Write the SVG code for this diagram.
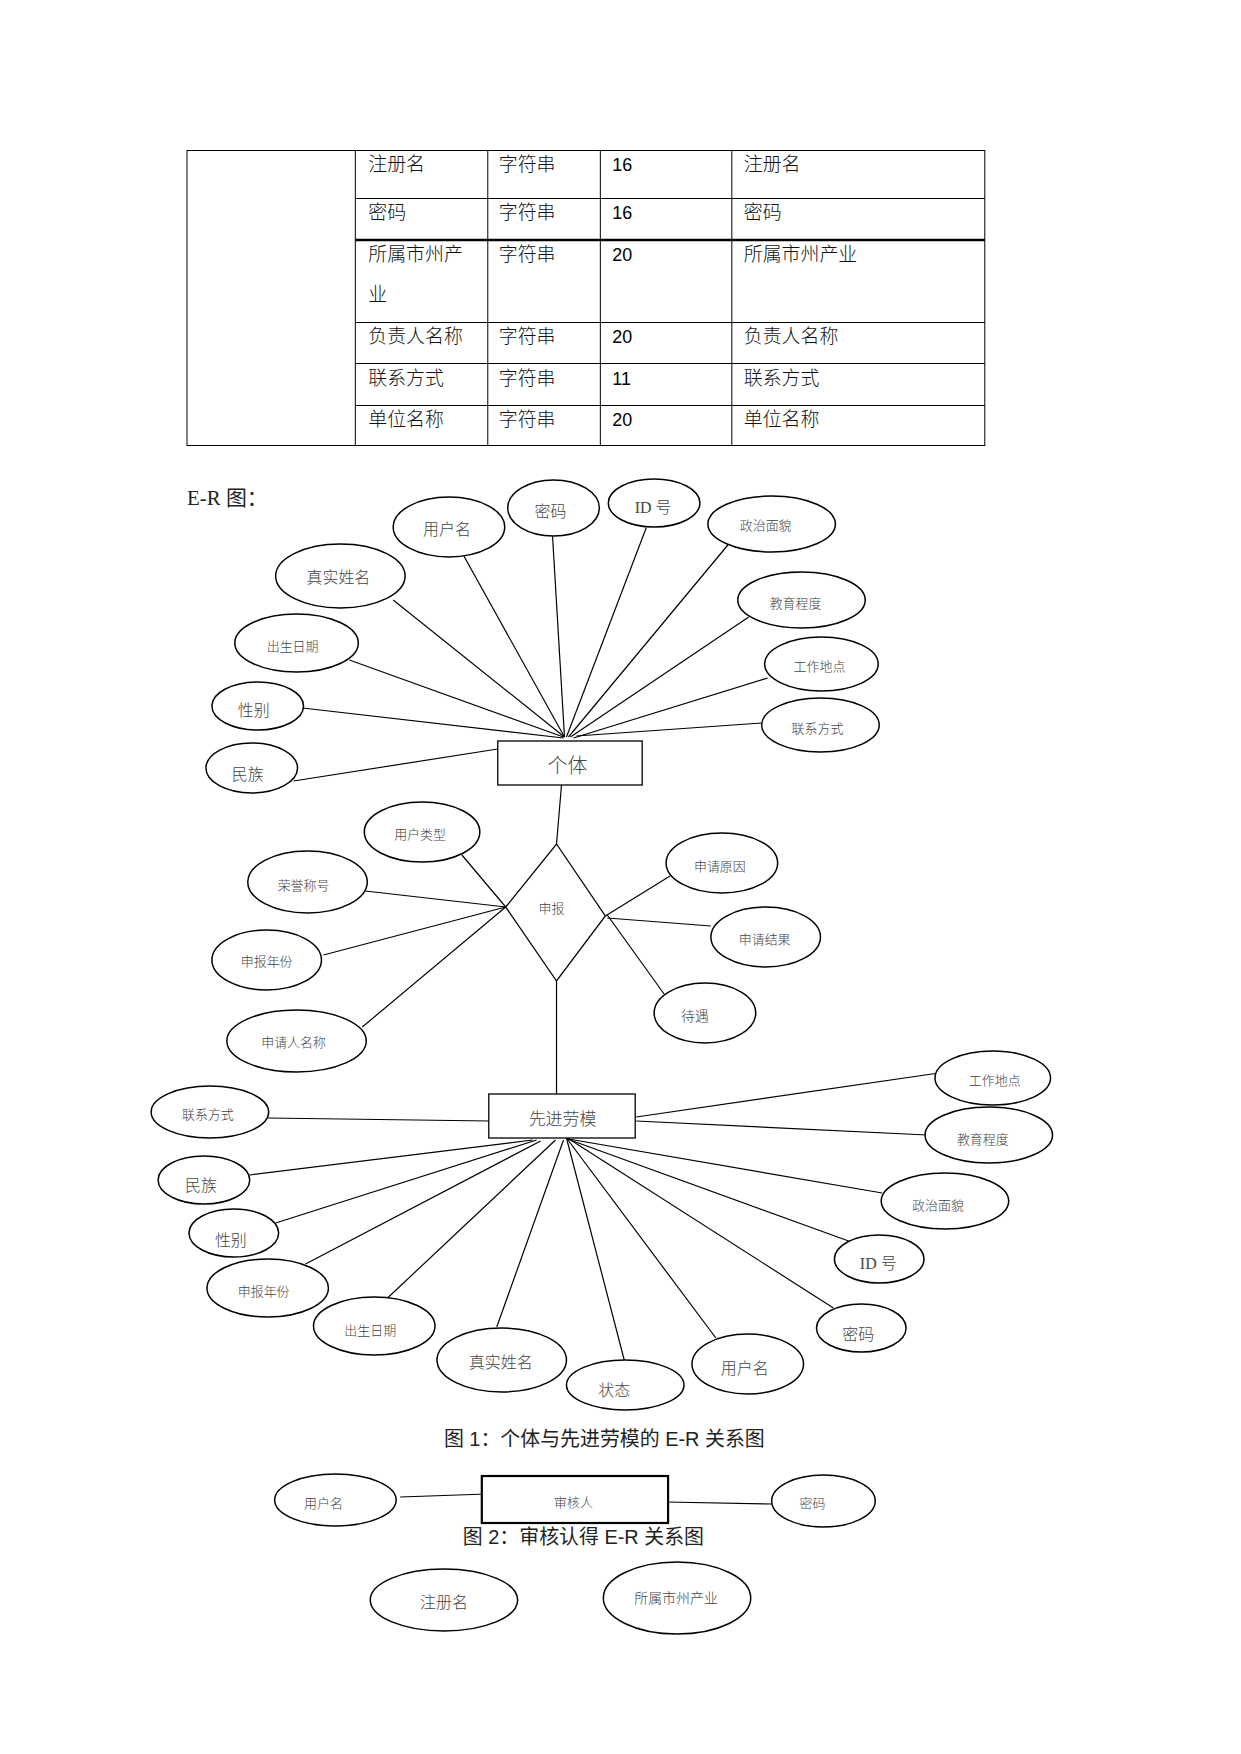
<svg xmlns="http://www.w3.org/2000/svg" width="1241" height="1754" viewBox="0 0 1241 1754">
<style>
.bg{fill:#fff}
.tl{stroke:#000;stroke-width:1;fill:none}
.tk{stroke:#000;stroke-width:2.5;fill:none}
.tc{font-family:"Noto Sans CJK SC",sans-serif;font-size:19px;fill:#111;font-weight:300}
.tn{font-family:"Liberation Sans",Arial,sans-serif;font-size:18px;fill:#000}
.e{fill:#fff;stroke:#000;stroke-width:1.5}
.r{fill:#fff;stroke:#000;stroke-width:1.3}
.r2{fill:#fff;stroke:#000;stroke-width:2.2}
.l{stroke:#000;stroke-width:1.2;fill:none}
.t{font-family:"Noto Sans CJK SC",sans-serif;fill:#444;text-anchor:middle;dominant-baseline:central;font-weight:300}
.s13{font-size:13px}
.s14{font-size:14px}
.s16{font-size:16px}
.s17{font-size:17px}
.s20{font-size:20px}
.sid{font-family:"Liberation Serif","Noto Sans CJK SC",serif}
.cap{font-family:"Liberation Sans","Noto Sans CJK SC",sans-serif;font-size:20px;fill:#222;text-anchor:middle}
</style>
<rect class="bg" x="0" y="0" width="1241" height="1754"/>
<g transform="translate(0.75,0) scale(0.996,1)">
<g id="table">
<rect class="tl" x="187" y="150.5" width="801" height="295"/>
<line class="tl" x1="356" y1="150.5" x2="356" y2="445.5"/>
<line class="tl" x1="489" y1="150.5" x2="489" y2="445.5"/>
<line class="tl" x1="602" y1="150.5" x2="602" y2="445.5"/>
<line class="tl" x1="734" y1="150.5" x2="734" y2="445.5"/>
<line class="tl" x1="356" y1="198.5" x2="988" y2="198.5"/>
<line class="tk" x1="356" y1="240" x2="988" y2="240"/>
<line class="tl" x1="356" y1="322.5" x2="988" y2="322.5"/>
<line class="tl" x1="356" y1="363.5" x2="988" y2="363.5"/>
<line class="tl" x1="356" y1="405.5" x2="988" y2="405.5"/>
<text class="tc" x="369" y="171">注册名</text><text class="tc" x="500" y="171">字符串</text><text class="tn" x="614" y="171">16</text><text class="tc" x="746" y="171">注册名</text>
<text class="tc" x="369" y="219">密码</text><text class="tc" x="500" y="219">字符串</text><text class="tn" x="614" y="219">16</text><text class="tc" x="746" y="219">密码</text>
<text class="tc" x="369" y="261">所属市州产</text><text class="tc" x="369" y="301">业</text><text class="tc" x="500" y="261">字符串</text><text class="tn" x="614" y="261">20</text><text class="tc" x="746" y="261">所属市州产业</text>
<text class="tc" x="369" y="343">负责人名称</text><text class="tc" x="500" y="343">字符串</text><text class="tn" x="614" y="343">20</text><text class="tc" x="746" y="343">负责人名称</text>
<text class="tc" x="369" y="385">联系方式</text><text class="tc" x="500" y="385">字符串</text><text class="tn" x="614" y="385">11</text><text class="tc" x="746" y="385">联系方式</text>
<text class="tc" x="369" y="426">单位名称</text><text class="tc" x="500" y="426">字符串</text><text class="tn" x="614" y="426">20</text><text class="tc" x="746" y="426">单位名称</text>
</g>

<text x="187" y="505" font-family="Liberation Serif,'Noto Sans CJK SC',serif" font-size="21" fill="#222">E-R 图：</text>

<g id="connectors">
<line class="l" x1="465" y1="556" x2="566" y2="737"/>
<line class="l" x1="554" y1="536" x2="566" y2="737"/>
<line class="l" x1="648" y1="528" x2="568" y2="737"/>
<line class="l" x1="730" y1="545" x2="570" y2="737"/>
<line class="l" x1="394" y1="600" x2="566" y2="737"/>
<line class="l" x1="751" y1="617" x2="572" y2="737"/>
<line class="l" x1="350" y1="660" x2="565" y2="737"/>
<line class="l" x1="770" y1="678" x2="575" y2="738"/>
<line class="l" x1="303" y1="708" x2="565" y2="738"/>
<line class="l" x1="764" y1="723" x2="578" y2="736"/>
<line class="l" x1="294" y1="781" x2="499" y2="749"/>
<line class="l" x1="563" y1="785" x2="558" y2="844"/>
<line class="l" x1="463" y1="855" x2="507" y2="907"/>
<line class="l" x1="366" y1="891" x2="507" y2="907"/>
<line class="l" x1="324" y1="955" x2="507" y2="907"/>
<line class="l" x1="363" y1="1027" x2="507" y2="907"/>
<line class="l" x1="672" y1="876" x2="607" y2="916"/>
<line class="l" x1="713" y1="926" x2="609" y2="918"/>
<line class="l" x1="666" y1="994" x2="609" y2="915"/>
<line class="l" x1="558" y1="981" x2="558" y2="1094"/>
<line class="l" x1="268" y1="1118" x2="491" y2="1121"/>
<line class="l" x1="942" y1="1073" x2="638" y2="1117"/>
<line class="l" x1="638" y1="1121" x2="930" y2="1135"/>
<line class="l" x1="250" y1="1175" x2="534" y2="1140"/>
<line class="l" x1="276" y1="1223" x2="538" y2="1140"/>
<line class="l" x1="306" y1="1264" x2="542" y2="1141"/>
<line class="l" x1="383" y1="1303" x2="557" y2="1140"/>
<line class="l" x1="498" y1="1327" x2="565" y2="1140"/>
<line class="l" x1="626" y1="1360" x2="568" y2="1138"/>
<line class="l" x1="718" y1="1338" x2="568" y2="1138"/>
<line class="l" x1="836" y1="1308" x2="569" y2="1138"/>
<line class="l" x1="854" y1="1242" x2="569" y2="1139"/>
<line class="l" x1="885" y1="1193" x2="570" y2="1139"/>
<line class="l" x1="401" y1="1497" x2="488" y2="1494"/>
<line class="l" x1="668" y1="1502" x2="774" y2="1504"/>
</g>

<g id="geti"><rect class="r" x="499" y="741" width="145" height="44"/><text class="t s20" x="569" y="764">个体</text></g>
<g id="a1-yonghuming"><ellipse class="e" cx="450" cy="527" rx="56" ry="30"/><text class="t s16" x="448" y="528">用户名</text></g>
<g id="a1-mima"><ellipse class="e" cx="555" cy="508" rx="46" ry="28"/><text class="t s16" x="552" y="510">密码</text></g>
<g id="a1-id"><ellipse class="e" cx="656" cy="503" rx="46" ry="24"/><text class="t s16 sid" x="655" y="507">ID 号</text></g>
<g id="a1-zhengzhi"><ellipse class="e" cx="774" cy="524" rx="64" ry="28"/><text class="t s13" x="768" y="525">政治面貌</text></g>
<g id="a1-zhenshi"><ellipse class="e" cx="341" cy="576" rx="65" ry="32"/><text class="t s16" x="339" y="576">真实姓名</text></g>
<g id="a1-jiaoyu"><ellipse class="e" cx="804" cy="600" rx="64" ry="28"/><text class="t s13" x="798" y="602">教育程度</text></g>
<g id="a1-chusheng"><ellipse class="e" cx="297" cy="643" rx="62" ry="29"/><text class="t s13" x="293" y="645">出生日期</text></g>
<g id="a1-gongzuo"><ellipse class="e" cx="824" cy="664" rx="57" ry="27"/><text class="t s13" x="822" y="666">工作地点</text></g>
<g id="a1-xingbie"><ellipse class="e" cx="258" cy="706" rx="46" ry="24"/><text class="t s16" x="254" y="709">性别</text></g>
<g id="a1-lianxi"><ellipse class="e" cx="823" cy="725" rx="59" ry="27"/><text class="t s13" x="820" y="727">联系方式</text></g>
<g id="a1-minzu"><ellipse class="e" cx="252" cy="768" rx="46" ry="25"/><text class="t s16" x="248" y="773">民族</text></g>

<g id="shenbao"><polygon class="r" points="558,844 607,916 558,981 507,907"/><text class="t s13" x="553" y="908">申报</text></g>
<g id="b-leixing"><ellipse class="e" cx="423" cy="832" rx="58" ry="30"/><text class="t s13" x="421" y="833">用户类型</text></g>
<g id="b-rongyu"><ellipse class="e" cx="308" cy="882" rx="60" ry="31"/><text class="t s13" x="304" y="885">荣誉称号</text></g>
<g id="b-nianfen"><ellipse class="e" cx="267" cy="960" rx="55" ry="30"/><text class="t s13" x="267" y="960">申报年份</text></g>
<g id="b-shenqingren"><ellipse class="e" cx="297" cy="1041" rx="70" ry="31"/><text class="t s13" x="294" y="1042">申请人名称</text></g>
<g id="b-yuanyin"><ellipse class="e" cx="724" cy="863" rx="56" ry="30"/><text class="t s13" x="722" y="865">申请原因</text></g>
<g id="b-jieguo"><ellipse class="e" cx="768" cy="937" rx="55" ry="30"/><text class="t s13" x="767" y="938">申请结果</text></g>
<g id="b-daiyu"><ellipse class="e" cx="707" cy="1013" rx="51" ry="30"/><text class="t s14" x="697" y="1015">待遇</text></g>

<g id="xianjin"><rect class="r" x="490" y="1094" width="147" height="44"/><text class="t s17" x="564" y="1117">先进劳模</text></g>
<g id="c-lianxi"><ellipse class="e" cx="210" cy="1112" rx="59" ry="26"/><text class="t s13" x="208" y="1113">联系方式</text></g>
<g id="c-gongzuo"><ellipse class="e" cx="996" cy="1078" rx="58" ry="27"/><text class="t s13" x="998" y="1080">工作地点</text></g>
<g id="c-jiaoyu"><ellipse class="e" cx="992" cy="1135" rx="64" ry="28"/><text class="t s13" x="986" y="1138">教育程度</text></g>
<g id="c-minzu"><ellipse class="e" cx="204" cy="1180" rx="46" ry="24"/><text class="t s16" x="201" y="1184">民族</text></g>
<g id="c-zhengzhi"><ellipse class="e" cx="948" cy="1201" rx="64" ry="28"/><text class="t s13" x="941" y="1204">政治面貌</text></g>
<g id="c-xingbie"><ellipse class="e" cx="234" cy="1233" rx="45" ry="24"/><text class="t s16" x="231" y="1239">性别</text></g>
<g id="c-id"><ellipse class="e" cx="882" cy="1259" rx="45" ry="24"/><text class="t s16 sid" x="881" y="1263">ID 号</text></g>
<g id="c-nianfen"><ellipse class="e" cx="268" cy="1288" rx="61" ry="29"/><text class="t s13" x="264" y="1290">申报年份</text></g>
<g id="c-chusheng"><ellipse class="e" cx="375" cy="1326" rx="61" ry="29"/><text class="t s13" x="371" y="1329">出生日期</text></g>
<g id="c-mima"><ellipse class="e" cx="864" cy="1328" rx="45" ry="24"/><text class="t s16" x="861" y="1333">密码</text></g>
<g id="c-zhenshi"><ellipse class="e" cx="503" cy="1360" rx="65" ry="32"/><text class="t s16" x="502" y="1361">真实姓名</text></g>
<g id="c-yonghuming"><ellipse class="e" cx="750" cy="1364" rx="56" ry="30"/><text class="t s16" x="747" y="1367">用户名</text></g>
<g id="c-zhuangtai"><ellipse class="e" cx="627" cy="1385" rx="59" ry="25"/><text class="t s16" x="616" y="1389">状态</text></g>

<text class="cap" x="606" y="1446">图 1：个体与先进劳模的 E-R 关系图</text>

<g id="shenheren"><rect class="r2" x="483" y="1476" width="187" height="47"/><text class="t s13" x="575" y="1501">审核人</text></g>
<g id="d-yonghuming"><ellipse class="e" cx="336" cy="1500" rx="61" ry="26"/><text class="t s13" x="324" y="1503">用户名</text></g>
<g id="d-mima"><ellipse class="e" cx="826" cy="1501" rx="52" ry="26"/><text class="t s13" x="815" y="1503">密码</text></g>

<text class="cap" x="585" y="1544">图 2：审核认得 E-R 关系图</text>

<g id="e-zhuceming"><ellipse class="e" cx="445" cy="1600" rx="74" ry="31"/><text class="t s16" x="445" y="1601">注册名</text></g>
<g id="e-suoshu"><ellipse class="e" cx="679" cy="1598" rx="74" ry="36"/><text class="t s14" x="678" y="1597">所属市州产业</text></g>
</g>
</svg>
